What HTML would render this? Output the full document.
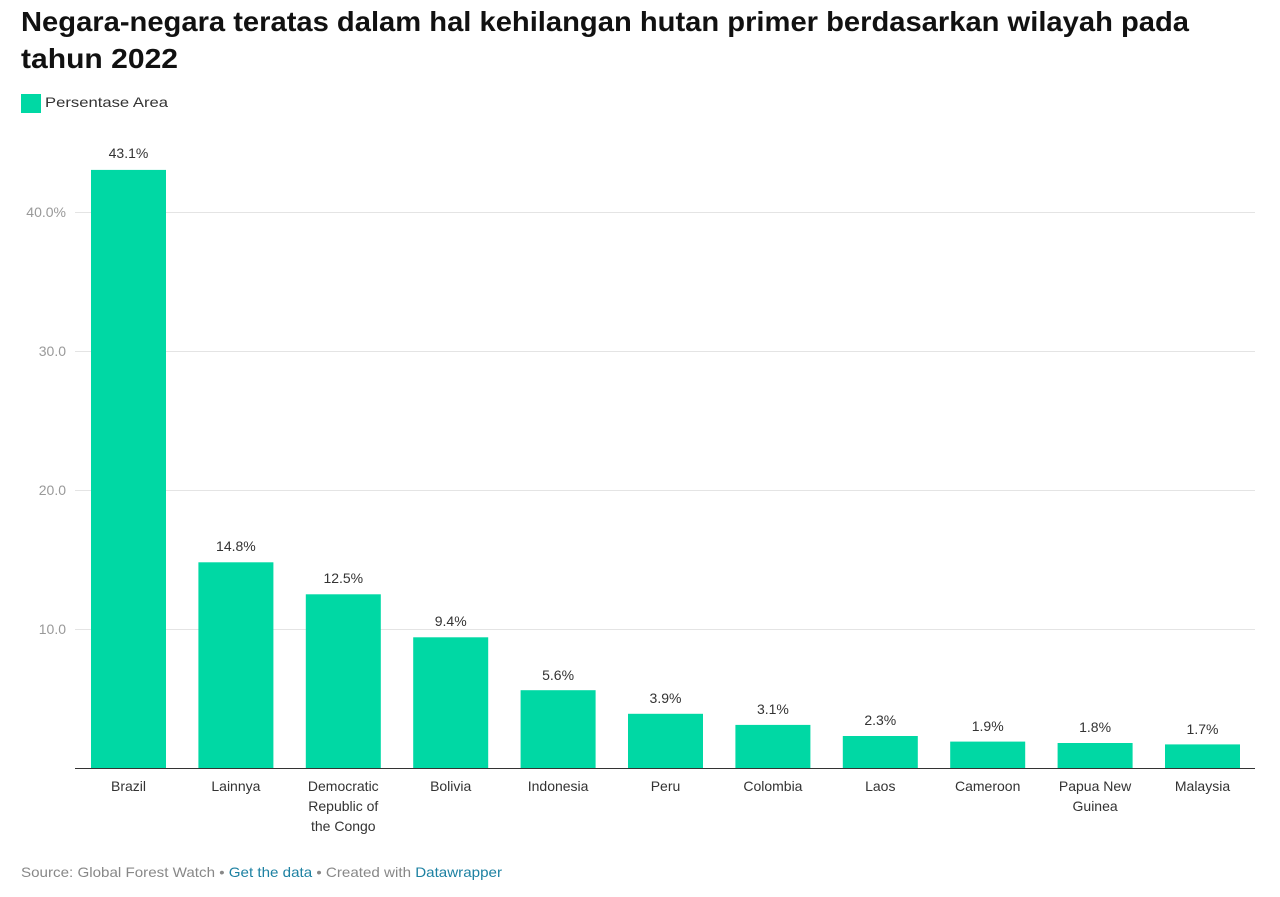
<!DOCTYPE html>
<html><head><meta charset="utf-8"><style>
html,body{margin:0;padding:0;background:#fff;width:1280px;height:897px;overflow:hidden}
svg{display:block;font-family:"Liberation Sans",sans-serif}
</style></head><body>
<svg width="1280" height="897" xmlns="http://www.w3.org/2000/svg">
<text x="21" y="31" font-size="28" font-weight="bold" fill="#111" textLength="1168" lengthAdjust="spacingAndGlyphs">Negara-negara teratas dalam hal kehilangan hutan primer berdasarkan wilayah pada</text>
<text x="21" y="68" font-size="28" font-weight="bold" fill="#111" textLength="157" lengthAdjust="spacingAndGlyphs">tahun 2022</text>
<rect x="21" y="94" width="20" height="19" fill="#00d8a4"/>
<text x="45" y="107" font-size="14" fill="#333" textLength="123" lengthAdjust="spacingAndGlyphs">Persentase Area</text>
<g stroke="#e4e4e4" stroke-width="1">
<line x1="75" x2="1255" y1="212.5" y2="212.5"/>
<line x1="75" x2="1255" y1="351.5" y2="351.5"/>
<line x1="75" x2="1255" y1="490.5" y2="490.5"/>
<line x1="75" x2="1255" y1="629.5" y2="629.5"/>
</g>
<g font-size="14" fill="#999" text-anchor="end">
<text x="66" y="217">40.0%</text>
<text x="66" y="356">30.0</text>
<text x="66" y="495">20.0</text>
<text x="66" y="634">10.0</text>
</g>
<g fill="#00d8a4">
<rect x="91" y="169.9" width="75" height="598.1"/>
<rect x="198.4" y="562.3" width="75" height="205.7"/>
<rect x="305.8" y="594.3" width="75" height="173.7"/>
<rect x="413.2" y="637.3" width="75" height="130.7"/>
<rect x="520.6" y="690.2" width="75" height="77.8"/>
<rect x="628" y="713.8" width="75" height="54.2"/>
<rect x="735.4" y="724.9" width="75" height="43.1"/>
<rect x="842.8" y="736" width="75" height="32"/>
<rect x="950.2" y="741.6" width="75" height="26.4"/>
<rect x="1057.6" y="743" width="75" height="25"/>
<rect x="1165" y="744.4" width="75" height="23.6"/>
</g>
<line x1="75" x2="1255" y1="768.5" y2="768.5" stroke="#333" stroke-width="1"/>
<g font-size="14" fill="#333" text-anchor="middle">
<text x="128.5" y="158">43.1%</text>
<text x="235.9" y="551">14.8%</text>
<text x="343.3" y="583">12.5%</text>
<text x="450.7" y="626">9.4%</text>
<text x="558.1" y="680">5.6%</text>
<text x="665.5" y="703">3.9%</text>
<text x="772.9" y="714">3.1%</text>
<text x="880.3" y="725">2.3%</text>
<text x="987.7" y="731">1.9%</text>
<text x="1095.1" y="732">1.8%</text>
<text x="1202.5" y="734">1.7%</text>
</g>
<g font-size="14" fill="#333" text-anchor="middle">
<text x="128.5" y="791">Brazil</text>
<text x="235.9" y="791">Lainnya</text>
<text x="343.3" y="791">Democratic</text>
<text x="343.3" y="811">Republic of</text>
<text x="343.3" y="831">the Congo</text>
<text x="450.7" y="791">Bolivia</text>
<text x="558.1" y="791">Indonesia</text>
<text x="665.5" y="791">Peru</text>
<text x="772.9" y="791">Colombia</text>
<text x="880.3" y="791">Laos</text>
<text x="987.7" y="791">Cameroon</text>
<text x="1095.1" y="791">Papua New</text>
<text x="1095.1" y="811">Guinea</text>
<text x="1202.5" y="791">Malaysia</text>
</g>
<text x="21" y="877" font-size="14" fill="#888" textLength="481" lengthAdjust="spacingAndGlyphs">Source: Global Forest Watch • <tspan fill="#1d81a2">Get the data</tspan> • Created with <tspan fill="#1d81a2">Datawrapper</tspan></text>
</svg>
</body></html>
